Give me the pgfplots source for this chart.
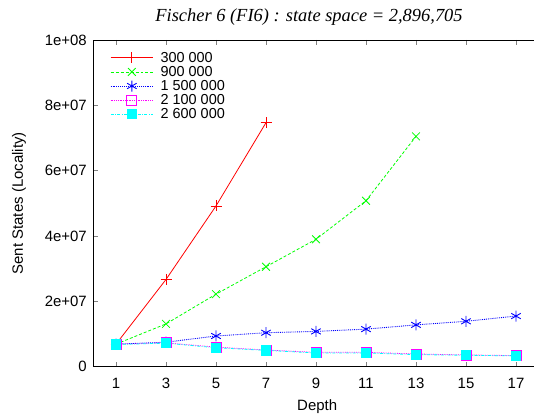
\documentclass[border=0pt]{standalone}
\usepackage{fontspec}
\setmainfont{Liberation Sans}
\newfontfamily\timesfont{Liberation Serif}
\usepackage{pgfplots}
\pgfplotsset{compat=1.18}
\definecolor{gred}{rgb}{1,0,0}
\definecolor{ggreen}{rgb}{0,1,0}
\definecolor{gblue}{rgb}{0,0,1}
\definecolor{gmagenta}{rgb}{1,0,1}
\definecolor{gcyan}{rgb}{0,1,1}
\begin{document}
\begin{tikzpicture}
\path[use as bounding box] (0,0) rectangle (534bp,414bp);
\begin{axis}[
  at={(93.3bp,47.3bp)}, anchor=south west,
  scale only axis, width=447.7bp, height=326.7bp,
  xmin=0.092, xmax=18, ymin=0, ymax=1e8,
  axis x line=box, axis y line*=left,
  axis line style={line width=0.9pt},
  tick style={line width=0.8pt},
  tick align=inside, major tick length=5bp,
  xtick={1,3,5,7,9,11,13,15,17},
  xticklabels={1,3,5,7,9,11,13,15,17},
  ytick={0,2e7,4e7,6e7,8e7,1e8},
  yticklabels={0,2e+07,4e+07,6e+07,8e+07,1e+08},
  scaled y ticks=false,
  /pgf/number format/assume math mode=true,
  ticklabel style={font=\fontsize{15}{17}\selectfont},
  xticklabel style={yshift=-8bp},
  yticklabel style={xshift=-3bp},
  xlabel={Depth}, ylabel={Sent States (Locality)},
  xlabel style={font=\fontsize{15}{17}\selectfont, yshift=-4bp},
  ylabel style={font=\fontsize{15}{17}\selectfont, yshift=12bp},
  legend cell align=left,
  legend style={draw=none, fill=none, at={(0.035,0.985)}, anchor=north west,
    font=\fontsize{14.5}{16}\selectfont, row sep=-1.5pt, column sep=5bp, inner sep=1pt},
  legend image code/.code={\draw[mark repeat=2,mark phase=2,#1] plot coordinates {(0cm,0cm) (0.75cm,0cm) (1.5cm,0cm)};},
]
\addlegendimage{color=gred, draw opacity=0, mark=none, line width=0.1pt}
\addlegendentry{\rule{0pt}{0pt}}
\addplot[color=gred, line width=0.8pt, mark=+, mark size=5.5bp, mark options={solid}]
  coordinates {(1,6.9e6) (3,2.67e7) (5,4.92e7) (7,7.47e7)};
\addlegendentry{300 000}
\addplot[color=ggreen, line width=0.8pt, dash pattern=on 3pt off 2pt, mark=x, mark size=5.5bp, mark options={solid}]
  coordinates {(1,6.9e6) (3,1.31e7) (5,2.22e7) (7,3.06e7) (9,3.9e7) (11,5.08e7) (13,7.05e7)};
\addlegendentry{900 000}
\addplot[color=gblue, line width=0.9pt, densely dotted, mark=asterisk, mark size=5.5bp, mark options={solid}]
  coordinates {(1,6.9e6) (3,7.5e6) (5,9.4e6) (7,1.04e7) (9,1.08e7) (11,1.15e7) (13,1.28e7) (15,1.39e7) (17,1.55e7)};
\addlegendentry{1 500 000}
\addplot[color=gmagenta, line width=0.8pt, densely dotted, mark=square, mark size=5bp, mark options={solid}]
  coordinates {(1,6.9e6) (3,7.3e6) (5,6.0e6) (7,5.1e6) (9,4.4e6) (11,4.4e6) (13,3.9e6) (15,3.6e6) (17,3.4e6)};
\addlegendentry{2 100 000}
\addplot[color=gcyan, line width=0.8pt, dash pattern=on 3pt off 1.5pt on 0.8pt off 1.5pt, mark=square*, mark size=4.6bp, mark options={solid, fill=gcyan, draw=gcyan}]
  coordinates {(1,6.8e6) (3,7.2e6) (5,5.8e6) (7,5.0e6) (9,4.2e6) (11,4.2e6) (13,3.7e6) (15,3.5e6) (17,3.3e6)};
\addlegendentry{2 600 000}
\end{axis}
\node[font=\timesfont\itshape\fontsize{18.5}{20}\selectfont] at (309bp,397bp) {Fischer 6 (FI6) : state space = 2,896,705};
\end{tikzpicture}
\end{document}
